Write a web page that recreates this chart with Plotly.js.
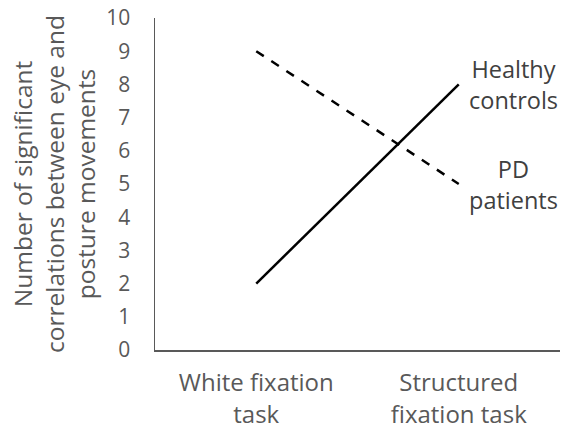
<!DOCTYPE html>
<html><head><meta charset="utf-8">
<script src="https://cdn.plot.ly/plotly-3.0.1.min.js"></script>
<style>html,body{margin:0;padding:0;background:#fff}#chart{width:565px;height:440px}</style>
</head><body><div id="chart"></div>
<script>
var categories = ["White fixation<br>task", "Structured<br>fixation task"];
var healthyControls = [2, 8];
var pdPatients = [9, 5];
var seriesLabels = ["Healthy<br>controls", "PD<br>patients"];
var yTicks = [0,1,2,3,4,5,6,7,8,9,10];

var font = "'Open Sans', sans-serif";
var traces = [
  {x: categories, y: healthyControls, type: "scatter", mode: "lines", line: {color: "#000", width: 2.5}, hoverinfo: "skip"},
  {x: categories, y: pdPatients, type: "scatter", mode: "lines", line: {color: "#000", width: 2.5, dash: "dash"}, hoverinfo: "skip"}
];
var layout = {
  width: 565, height: 440,
  margin: {l: 155, r: 5, t: 18, b: 90},
  showlegend: false,
  paper_bgcolor: "#fff", plot_bgcolor: "#fff",
  font: {family: font, color: "#595959", size: 22},
  xaxis: {
    type: "category", range: [-0.5, 1.5],
    showline: true, linecolor: "#595959", linewidth: 1.5,
    showgrid: false, zeroline: false, ticks: "",
    ticklabelstandoff: 11,
    tickfont: {family: font, size: 24, color: "#595959"}
  },
  yaxis: {
    range: [0, 10], tickvals: yTicks,
    showline: true, linecolor: "#595959", linewidth: 1.5,
    showgrid: false, zeroline: false, ticks: "", ticklen: 0,
    ticklabelstandoff: 19,
    tickfont: {family: font, size: 21, color: "#595959"},
    title: {text: "Number of significant<br>correlations between eye and<br>posture movements", font: {family: font, size: 24.5, color: "#595959"}, standoff: 3}
  },
  annotations: [
    {x: 1, y: healthyControls[1], xref: "paper", yref: "y", text: seriesLabels[0], showarrow: false, xanchor: "right", yanchor: "middle", font: {family: font, size: 23.5, color: "#404040"}},
    {x: 1, y: pdPatients[1], xref: "paper", yref: "y", text: seriesLabels[1], showarrow: false, xanchor: "right", yanchor: "middle", font: {family: font, size: 23.5, color: "#404040"}}
  ]
};
Plotly.newPlot("chart", traces, layout, {staticPlot: true, displayModeBar: false});
</script></body></html>
